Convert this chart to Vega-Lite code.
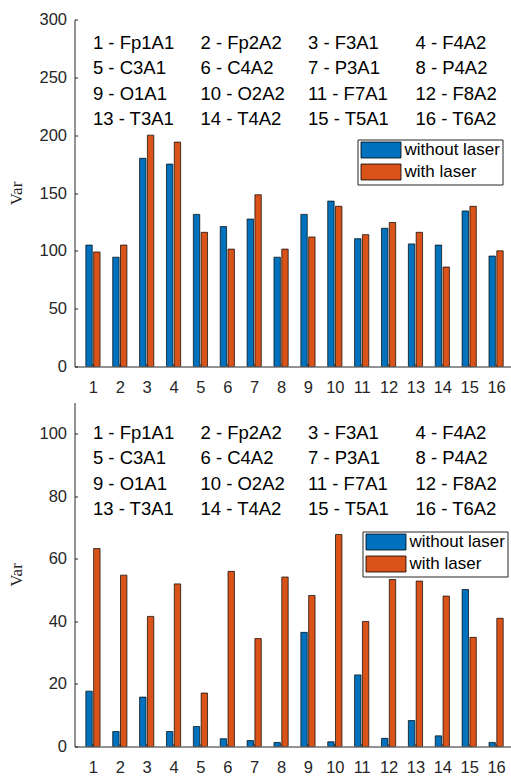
{
  "$schema": "https://vega.github.io/schema/vega-lite/v6.json",
  "background": "white",
  "padding": {"left": 6.5, "top": 11.5, "right": 0, "bottom": 0},
  "spacing": 7,
  "datasets": {
    "bars": [
      {"ch": 1, "cond": "without laser", "panel": "top", "var": 105},
      {"ch": 1, "cond": "with laser", "panel": "top", "var": 99},
      {"ch": 2, "cond": "without laser", "panel": "top", "var": 94.5},
      {"ch": 2, "cond": "with laser", "panel": "top", "var": 105},
      {"ch": 3, "cond": "without laser", "panel": "top", "var": 180},
      {"ch": 3, "cond": "with laser", "panel": "top", "var": 200},
      {"ch": 4, "cond": "without laser", "panel": "top", "var": 175},
      {"ch": 4, "cond": "with laser", "panel": "top", "var": 194},
      {"ch": 5, "cond": "without laser", "panel": "top", "var": 131.5},
      {"ch": 5, "cond": "with laser", "panel": "top", "var": 116},
      {"ch": 6, "cond": "without laser", "panel": "top", "var": 121},
      {"ch": 6, "cond": "with laser", "panel": "top", "var": 101.5},
      {"ch": 7, "cond": "without laser", "panel": "top", "var": 127.5},
      {"ch": 7, "cond": "with laser", "panel": "top", "var": 148.5},
      {"ch": 8, "cond": "without laser", "panel": "top", "var": 94.5},
      {"ch": 8, "cond": "with laser", "panel": "top", "var": 101.5},
      {"ch": 9, "cond": "without laser", "panel": "top", "var": 131.5},
      {"ch": 9, "cond": "with laser", "panel": "top", "var": 112},
      {"ch": 10, "cond": "without laser", "panel": "top", "var": 143},
      {"ch": 10, "cond": "with laser", "panel": "top", "var": 138.5},
      {"ch": 11, "cond": "without laser", "panel": "top", "var": 110.5},
      {"ch": 11, "cond": "with laser", "panel": "top", "var": 114},
      {"ch": 12, "cond": "without laser", "panel": "top", "var": 119.5},
      {"ch": 12, "cond": "with laser", "panel": "top", "var": 124.5},
      {"ch": 13, "cond": "without laser", "panel": "top", "var": 106},
      {"ch": 13, "cond": "with laser", "panel": "top", "var": 116},
      {"ch": 14, "cond": "without laser", "panel": "top", "var": 105},
      {"ch": 14, "cond": "with laser", "panel": "top", "var": 86},
      {"ch": 15, "cond": "without laser", "panel": "top", "var": 134.5},
      {"ch": 15, "cond": "with laser", "panel": "top", "var": 138.5},
      {"ch": 16, "cond": "without laser", "panel": "top", "var": 95.5},
      {"ch": 16, "cond": "with laser", "panel": "top", "var": 100},
      {"ch": 1, "cond": "without laser", "panel": "bottom", "var": 17.7},
      {"ch": 1, "cond": "with laser", "panel": "bottom", "var": 63.3},
      {"ch": 2, "cond": "without laser", "panel": "bottom", "var": 4.8},
      {"ch": 2, "cond": "with laser", "panel": "bottom", "var": 54.8},
      {"ch": 3, "cond": "without laser", "panel": "bottom", "var": 15.8},
      {"ch": 3, "cond": "with laser", "panel": "bottom", "var": 41.6},
      {"ch": 4, "cond": "without laser", "panel": "bottom", "var": 4.8},
      {"ch": 4, "cond": "with laser", "panel": "bottom", "var": 52.0},
      {"ch": 5, "cond": "without laser", "panel": "bottom", "var": 6.4},
      {"ch": 5, "cond": "with laser", "panel": "bottom", "var": 17.1},
      {"ch": 6, "cond": "without laser", "panel": "bottom", "var": 2.5},
      {"ch": 6, "cond": "with laser", "panel": "bottom", "var": 56.0},
      {"ch": 7, "cond": "without laser", "panel": "bottom", "var": 1.9},
      {"ch": 7, "cond": "with laser", "panel": "bottom", "var": 34.5},
      {"ch": 8, "cond": "without laser", "panel": "bottom", "var": 1.3},
      {"ch": 8, "cond": "with laser", "panel": "bottom", "var": 54.2},
      {"ch": 9, "cond": "without laser", "panel": "bottom", "var": 36.5},
      {"ch": 9, "cond": "with laser", "panel": "bottom", "var": 48.3},
      {"ch": 10, "cond": "without laser", "panel": "bottom", "var": 1.5},
      {"ch": 10, "cond": "with laser", "panel": "bottom", "var": 67.8},
      {"ch": 11, "cond": "without laser", "panel": "bottom", "var": 22.9},
      {"ch": 11, "cond": "with laser", "panel": "bottom", "var": 40.0},
      {"ch": 12, "cond": "without laser", "panel": "bottom", "var": 2.6},
      {"ch": 12, "cond": "with laser", "panel": "bottom", "var": 53.4},
      {"ch": 13, "cond": "without laser", "panel": "bottom", "var": 8.3},
      {"ch": 13, "cond": "with laser", "panel": "bottom", "var": 52.9},
      {"ch": 14, "cond": "without laser", "panel": "bottom", "var": 3.4},
      {"ch": 14, "cond": "with laser", "panel": "bottom", "var": 48.1},
      {"ch": 15, "cond": "without laser", "panel": "bottom", "var": 50.2},
      {"ch": 15, "cond": "with laser", "panel": "bottom", "var": 34.9},
      {"ch": 16, "cond": "without laser", "panel": "bottom", "var": 1.3},
      {"ch": 16, "cond": "with laser", "panel": "bottom", "var": 41.0}
    ],
    "names": [
      {"label": "1 - Fp1A1", "col": 1, "row": 1},
      {"label": "2 - Fp2A2", "col": 5, "row": 1},
      {"label": "3 - F3A1", "col": 9, "row": 1},
      {"label": "4 - F4A2", "col": 13, "row": 1},
      {"label": "5 - C3A1", "col": 1, "row": 2},
      {"label": "6 - C4A2", "col": 5, "row": 2},
      {"label": "7 - P3A1", "col": 9, "row": 2},
      {"label": "8 - P4A2", "col": 13, "row": 2},
      {"label": "9 - O1A1", "col": 1, "row": 3},
      {"label": "10 - O2A2", "col": 5, "row": 3},
      {"label": "11 - F7A1", "col": 9, "row": 3},
      {"label": "12 - F8A2", "col": 13, "row": 3},
      {"label": "13 - T3A1", "col": 1, "row": 4},
      {"label": "14 - T4A2", "col": 5, "row": 4},
      {"label": "15 - T5A1", "col": 9, "row": 4},
      {"label": "16 - T6A2", "col": 13, "row": 4}
    ]
  },
  "config": {
    "view": {"stroke": null},
    "axis": {
      "grid": false,
      "domainColor": "#262626",
      "tickColor": "#262626",
      "labelColor": "#262626",
      "labelFont": "Liberation Sans",
      "labelFontSize": 16.5,
      "tickSize": -3,
      "domainWidth": 1,
      "tickWidth": 1,
      "titleFont": "Liberation Serif",
      "titleFontSize": 17,
      "titleFontWeight": "normal",
      "titleColor": "#262626"
    },
    "legend": {
      "title": null,
      "labelFont": "Liberation Sans",
      "labelFontSize": 17,
      "labelColor": "#000000",
      "strokeColor": "#262626",
      "strokeWidth": 1,
      "fillColor": "#ffffff",
      "padding": 2,
      "rowPadding": 1,
      "symbolOpacity": 1
    }
  },
  "resolve": {"scale": {"color": "independent", "x": "independent", "y": "independent"}, "legend": {"color": "independent"}},
  "vconcat": [
    {
      "width": 436,
      "height": 347,
      "resolve": {"scale": {"y": "independent"}},
      "layer": [
        {
          "data": {"name": "bars"},
          "transform": [{"filter": "datum.panel === 'top' && datum.cond === 'without laser'"}],
          "mark": {"type": "bar", "orient": "vertical", "width": 6.4, "xOffset": -3.9, "stroke": "#000000", "strokeWidth": 0.7, "clip": true},
          "encoding": {
            "x": {"field": "ch", "type": "quantitative", "scale": {"domain": [0.5, 16.35], "nice": false, "zero": false}, "axis": {"values": [1,2,3,4,5,6,7,8,9,10,11,12,13,14,15,16], "title": null, "labelPadding": 15.5}},
            "y": {"field": "var", "type": "quantitative", "scale": {"domain": [0, 300], "nice": false}, "axis": {"values": [0,50,100,150,200,250,300], "title": "Var", "labelPadding": 11, "titlePadding": 13.5, "minExtent": 36, "maxExtent": 36}},
            "color": {"field": "cond", "type": "nominal", "scale": {"domain": ["without laser", "with laser"], "range": ["#0072BD", "#D95319"]}, "legend": {"orient": "none", "legendX": 283, "legendY": 120, "zindex": 2, "strokeColor": "#262626", "fillColor": "#ffffff", "cornerRadius": 0, "symbolType": "M-2.5,-1H2.5V1H-2.5Z", "symbolSize": 256, "symbolOffset": 13, "labelOffset": 15, "symbolStrokeColor": "#000000", "symbolStrokeWidth": 0.8}}
          }
        },
        {
          "data": {"name": "bars"},
          "transform": [{"filter": "datum.panel === 'top' && datum.cond === 'with laser'"}],
          "mark": {"type": "bar", "orient": "vertical", "width": 6.4, "xOffset": 3.9, "stroke": "#000000", "strokeWidth": 0.7, "clip": true},
          "encoding": {
            "x": {"field": "ch", "type": "quantitative", "scale": {"domain": [0.5, 16.35], "nice": false, "zero": false}, "axis": {"values": [1,2,3,4,5,6,7,8,9,10,11,12,13,14,15,16], "title": null, "labelPadding": 15.5}},
            "y": {"field": "var", "type": "quantitative", "scale": {"domain": [0, 300], "nice": false}, "axis": null},
            "color": {"field": "cond", "type": "nominal", "scale": {"domain": ["without laser", "with laser"], "range": ["#0072BD", "#D95319"]}, "legend": null}
          }
        },
        {
          "data": {"name": "names"},
          "mark": {"type": "text", "align": "left", "baseline": "middle", "font": "Liberation Sans", "fontSize": 18.5, "color": "#000000"},
          "encoding": {
            "x": {"field": "col", "type": "quantitative", "scale": {"domain": [0.5, 16.35], "nice": false, "zero": false}, "axis": {"values": [1,2,3,4,5,6,7,8,9,10,11,12,13,14,15,16], "title": null, "labelPadding": 15.5}},
            "y": {"field": "row", "type": "quantitative", "scale": {"domain": [0.067, 13.82], "reverse": true, "nice": false, "zero": false}, "axis": null},
            "text": {"field": "label", "type": "nominal"}
          }
        }
      ]
    },
    {
      "width": 436,
      "height": 344,
      "resolve": {"scale": {"y": "independent"}},
      "layer": [
        {
          "data": {"name": "bars"},
          "transform": [{"filter": "datum.panel === 'bottom' && datum.cond === 'without laser'"}],
          "mark": {"type": "bar", "orient": "vertical", "width": 6.4, "xOffset": -3.9, "stroke": "#000000", "strokeWidth": 0.7, "clip": true},
          "encoding": {
            "x": {"field": "ch", "type": "quantitative", "scale": {"domain": [0.5, 16.35], "nice": false, "zero": false}, "axis": {"values": [1,2,3,4,5,6,7,8,9,10,11,12,13,14,15,16], "title": null, "labelPadding": 15.5}},
            "y": {"field": "var", "type": "quantitative", "scale": {"domain": [0, 110], "nice": false}, "axis": {"values": [0,20,40,60,80,100], "title": "Var", "labelPadding": 11, "titlePadding": 13.5, "minExtent": 36, "maxExtent": 36}},
            "color": {"field": "cond", "type": "nominal", "scale": {"domain": ["without laser", "with laser"], "range": ["#0072BD", "#D95319"]}, "legend": {"orient": "none", "legendX": 288, "legendY": 129, "zindex": 2, "strokeColor": "#262626", "fillColor": "#ffffff", "cornerRadius": 0, "symbolType": "M-2.5,-1H2.5V1H-2.5Z", "symbolSize": 256, "symbolOffset": 13, "labelOffset": 15, "symbolStrokeColor": "#000000", "symbolStrokeWidth": 0.8}}
          }
        },
        {
          "data": {"name": "bars"},
          "transform": [{"filter": "datum.panel === 'bottom' && datum.cond === 'with laser'"}],
          "mark": {"type": "bar", "orient": "vertical", "width": 6.4, "xOffset": 3.9, "stroke": "#000000", "strokeWidth": 0.7, "clip": true},
          "encoding": {
            "x": {"field": "ch", "type": "quantitative", "scale": {"domain": [0.5, 16.35], "nice": false, "zero": false}, "axis": {"values": [1,2,3,4,5,6,7,8,9,10,11,12,13,14,15,16], "title": null, "labelPadding": 15.5}},
            "y": {"field": "var", "type": "quantitative", "scale": {"domain": [0, 110], "nice": false}, "axis": null},
            "color": {"field": "cond", "type": "nominal", "scale": {"domain": ["without laser", "with laser"], "range": ["#0072BD", "#D95319"]}, "legend": null}
          }
        },
        {
          "data": {"name": "names"},
          "mark": {"type": "text", "align": "left", "baseline": "middle", "font": "Liberation Sans", "fontSize": 18.5, "color": "#000000"},
          "encoding": {
            "x": {"field": "col", "type": "quantitative", "scale": {"domain": [0.5, 16.35], "nice": false, "zero": false}, "axis": {"values": [1,2,3,4,5,6,7,8,9,10,11,12,13,14,15,16], "title": null, "labelPadding": 15.5}},
            "y": {"field": "row", "type": "quantitative", "scale": {"domain": [-0.2075, 13.39], "reverse": true, "nice": false, "zero": false}, "axis": null},
            "text": {"field": "label", "type": "nominal"}
          }
        }
      ]
    }
  ]
}
